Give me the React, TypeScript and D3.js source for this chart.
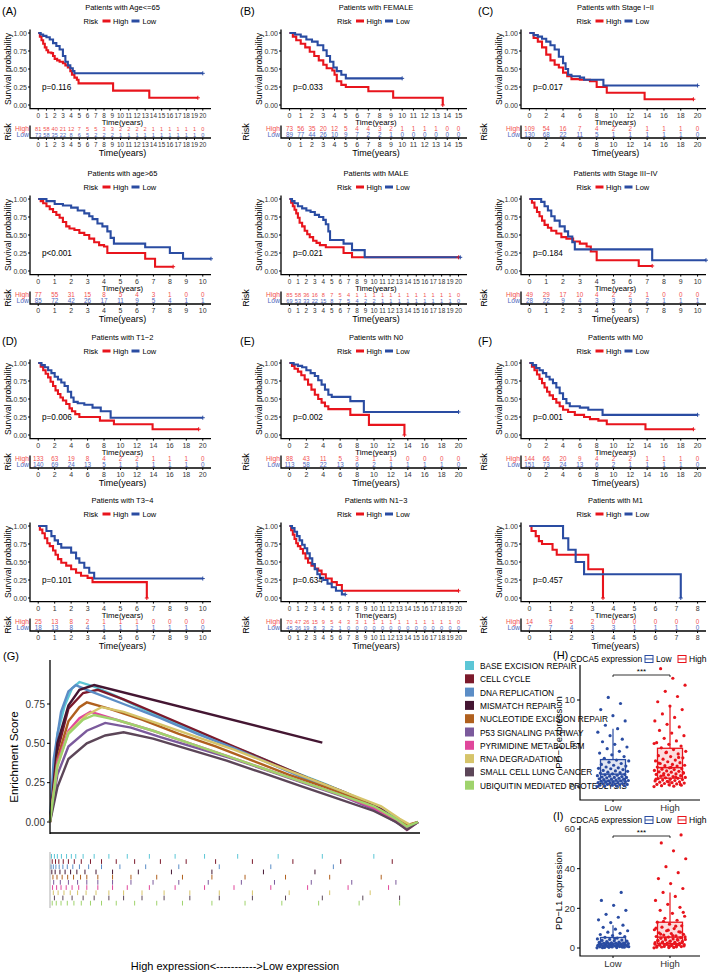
import React from "react";
import * as d3 from "d3";

const FONT = "'Liberation Sans', Arial, Helvetica, sans-serif";
const RED = "#e8141c";
const BLUE = "#2a4ca2";
const RED_T = "#f25050";
const BLUE_T = "#5068bd";

// ---------------- KM survival curves: [time, survival] (last pair = end of follow-up)
const KM_A1_HIGH = [[0,1],[0.2,0.95],[0.4,0.9],[0.6,0.85],[0.8,0.8],[1.0,0.76],[1.2,0.73],[1.6,0.72],[1.8,0.68],[2.0,0.64],[2.3,0.62],[2.6,0.6],[3.0,0.58],[3.3,0.55],[3.6,0.52],[3.9,0.47],[4.1,0.42],[4.4,0.38],[4.7,0.35],[4.9,0.3],[9.1,0.2],[13.5,0.1],[19.4,0.1]];
const KM_A1_LOW = [[0,1],[0.3,0.98],[0.6,0.96],[1.0,0.94],[1.4,0.91],[1.8,0.86],[2.2,0.82],[2.6,0.77],[3.0,0.68],[3.3,0.6],[3.6,0.55],[3.9,0.51],[4.2,0.47],[4.4,0.44],[20,0.44]];
const KM_B1_HIGH = [[0,1],[0.3,0.95],[0.6,0.9],[1.0,0.85],[1.4,0.8],[1.8,0.74],[2.2,0.68],[2.6,0.62],[3.0,0.56],[3.3,0.51],[3.8,0.48],[4.0,0.42],[4.2,0.33],[4.6,0.28],[5.0,0.25],[7.0,0.19],[9.2,0.1],[13.6,0.0]];
const KM_B1_LOW = [[0,1],[0.5,0.98],[1.0,0.95],[1.5,0.91],[2.0,0.88],[2.5,0.83],[3.0,0.76],[3.3,0.68],[3.6,0.6],[3.9,0.52],[4.2,0.47],[4.6,0.42],[5.0,0.37],[10,0.37]];
const KM_C1_HIGH = [[0,1],[0.5,0.93],[1.0,0.88],[1.5,0.8],[2.0,0.7],[2.5,0.62],[3.0,0.56],[3.5,0.52],[4.0,0.45],[4.5,0.4],[5.0,0.36],[6.0,0.35],[7.2,0.33],[8.0,0.25],[9.2,0.17],[13.7,0.08],[19.5,0.08]];
const KM_C1_LOW = [[0,1],[0.5,0.97],[1.0,0.95],[1.5,0.92],[2.0,0.88],[2.5,0.83],[3.0,0.77],[3.5,0.67],[4.0,0.58],[4.3,0.5],[4.6,0.42],[5.0,0.4],[6.0,0.38],[6.5,0.35],[8.8,0.27],[20,0.27]];
const KM_A2_HIGH = [[0,1],[0.15,0.97],[0.3,0.94],[0.5,0.9],[0.7,0.86],[0.9,0.82],[1.1,0.78],[1.3,0.74],[1.5,0.68],[1.7,0.62],[1.9,0.59],[2.2,0.57],[2.5,0.53],[2.8,0.5],[3.1,0.45],[3.4,0.4],[3.7,0.36],[4.0,0.34],[4.2,0.25],[6.5,0.17],[7.1,0.06],[8.2,0.06]];
const KM_A2_LOW = [[0,1],[0.5,0.97],[1.0,0.93],[1.5,0.91],[2.0,0.88],[2.4,0.84],[2.8,0.8],[3.1,0.76],[3.3,0.72],[3.6,0.66],[3.9,0.62],[4.2,0.55],[4.4,0.46],[4.6,0.38],[6.5,0.33],[8.0,0.25],[8.8,0.17],[10.5,0.17]];
const KM_B2_HIGH = [[0,1],[0.2,0.95],[0.4,0.9],[0.6,0.85],[0.8,0.8],[1.0,0.74],[1.2,0.67],[1.5,0.62],[1.8,0.56],[2.1,0.51],[2.4,0.47],[2.8,0.42],[3.2,0.39],[3.6,0.36],[4.3,0.33],[6.4,0.25],[7.4,0.19],[20,0.19]];
const KM_B2_LOW = [[0,1],[0.3,0.97],[0.6,0.94],[1.0,0.9],[1.5,0.87],[2.0,0.84],[2.5,0.82],[3.0,0.78],[3.5,0.75],[4.0,0.71],[4.3,0.65],[4.6,0.55],[4.8,0.43],[6.4,0.38],[7.4,0.29],[8.9,0.19],[20.2,0.19]];
const KM_C2_HIGH = [[0,1],[0.15,0.95],[0.3,0.88],[0.45,0.82],[0.6,0.76],[0.75,0.7],[0.9,0.64],[1.1,0.6],[1.3,0.56],[1.6,0.52],[1.9,0.47],[2.2,0.45],[2.6,0.41],[3.0,0.38],[3.4,0.34],[3.65,0.27],[4.0,0.15],[6.5,0.07],[7.3,0.07]];
const KM_C2_LOW = [[0,1],[0.7,0.96],[0.9,0.9],[1.1,0.84],[1.3,0.76],[1.5,0.7],[1.8,0.62],[2.1,0.55],[2.3,0.48],[2.55,0.4],[2.7,0.3],[7.3,0.15],[10.5,0.15]];
const KM_D_HIGH = [[0,1],[0.3,0.95],[0.6,0.9],[0.9,0.85],[1.2,0.8],[1.5,0.74],[1.8,0.68],[2.1,0.62],[2.4,0.57],[2.7,0.52],[3.0,0.48],[3.4,0.43],[3.8,0.37],[4.1,0.33],[4.5,0.29],[5.0,0.25],[7.5,0.2],[9.2,0.15],[13.9,0.08],[19.5,0.08]];
const KM_D_LOW = [[0,1],[0.4,0.97],[0.8,0.94],[1.2,0.9],[1.6,0.86],[2.0,0.81],[2.4,0.77],[2.8,0.73],[3.2,0.68],[3.6,0.6],[4.0,0.52],[4.3,0.46],[4.8,0.44],[5.6,0.42],[6.6,0.38],[7.6,0.33],[8.8,0.24],[20,0.24]];
const KM_E_HIGH = [[0,1],[0.3,0.96],[0.6,0.92],[1.0,0.88],[1.4,0.83],[1.8,0.77],[2.2,0.7],[2.6,0.63],[3.0,0.56],[3.4,0.5],[3.8,0.45],[4.2,0.4],[4.6,0.36],[7.2,0.28],[9.4,0.14],[13.6,0.0]];
const KM_E_LOW = [[0,1],[0.5,0.98],[1.0,0.96],[1.5,0.94],[2.0,0.9],[2.5,0.86],[3.0,0.82],[3.4,0.76],[3.8,0.7],[4.2,0.63],[4.6,0.56],[5.0,0.53],[7.2,0.47],[8.8,0.32],[20,0.32]];
const KM_F_HIGH = [[0,1],[0.3,0.95],[0.6,0.9],[0.9,0.84],[1.2,0.78],[1.5,0.72],[1.8,0.66],[2.1,0.6],[2.4,0.55],[2.8,0.5],[3.2,0.45],[3.6,0.4],[4.0,0.35],[4.6,0.32],[5.4,0.28],[6.5,0.25],[7.2,0.22],[8.2,0.2],[9.2,0.15],[13.8,0.08],[19.5,0.08]];
const KM_F_LOW = [[0,1],[0.4,0.97],[0.8,0.93],[1.2,0.9],[1.6,0.86],[2.0,0.81],[2.4,0.77],[2.8,0.72],[3.2,0.66],[3.6,0.58],[4.0,0.5],[4.4,0.44],[4.8,0.4],[6.0,0.38],[7.0,0.35],[8.7,0.28],[20,0.28]];
const KM_D4_HIGH = [[0,1],[0.1,0.95],[0.25,0.9],[0.4,0.83],[0.55,0.76],[0.7,0.72],[0.9,0.66],[1.05,0.6],[1.2,0.54],[1.4,0.49],[1.7,0.45],[2.0,0.4],[2.3,0.35],[2.6,0.31],[3.0,0.28],[3.3,0.22],[6.6,0.0]];
const KM_D4_LOW = [[0,1],[0.5,0.93],[0.8,0.86],[1.0,0.8],[1.2,0.75],[1.4,0.7],[2.0,0.63],[2.3,0.55],[2.5,0.49],[2.8,0.42],[3.1,0.35],[3.4,0.27],[10,0.27]];
const KM_E4_HIGH = [[0,1],[0.2,0.94],[0.4,0.88],[0.6,0.82],[0.8,0.76],[1.0,0.72],[1.3,0.68],[1.6,0.62],[1.9,0.55],[2.2,0.49],[2.6,0.45],[3.0,0.41],[3.4,0.38],[3.8,0.33],[4.3,0.27],[5.0,0.22],[5.6,0.18],[6.2,0.1],[20,0.1]];
const KM_E4_LOW = [[0,1],[0.3,0.97],[0.6,0.92],[0.9,0.86],[1.2,0.8],[1.5,0.74],[1.8,0.69],[2.1,0.62],[2.4,0.55],[2.7,0.47],[3.0,0.4],[3.3,0.33],[3.6,0.28],[4.0,0.25],[4.5,0.2],[5.0,0.15],[5.5,0.1],[6.2,0.05],[6.6,0.05]];
const KM_F4_HIGH = [[0,1],[0.1,0.93],[0.3,0.86],[0.45,0.79],[0.6,0.75],[1.1,0.67],[1.3,0.6],[2.8,0.4],[3.5,0.0]];
const KM_F4_LOW = [[0,1],[1.6,0.83],[1.85,0.67],[2.2,0.5],[2.6,0.33],[7.2,0.0]];

// ---------------- numbers at risk (at each labelled time)
const RISK_A1_HIGH = [81,58,40,21,12,7,5,5,3,3,2,2,2,2,1,1,1,1,1,1,0];
const RISK_A1_LOW = [73,58,35,22,8,6,5,2,2,2,1,1,1,1,1,1,1,1,1,1,0];
const RISK_B1_HIGH = [73,56,35,20,12,5,4,4,3,2,1,1,1,1,0,0];
const RISK_B1_LOW = [89,77,44,26,10,9,7,2,2,1,0,0,0,0,0,0];
const RISK_C1_HIGH = [109,54,16,7,4,2,2,1,1,1,0];
const RISK_C1_LOW = [130,68,22,11,5,1,1,1,1,1,0];
const RISK_A2_HIGH = [77,55,31,15,8,5,4,3,1,0,0];
const RISK_A2_LOW = [85,72,42,26,17,11,9,5,4,1,1];
const RISK_B2_HIGH = [85,58,36,16,8,7,5,4,1,1,1,1,1,1,1,1,1,1,1,1,0];
const RISK_B2_LOW = [69,53,33,22,15,8,7,5,4,2,2,1,1,1,1,1,1,1,1,1,0];
const RISK_C2_HIGH = [49,29,17,10,4,2,2,1,0,0,0];
const RISK_C2_LOW = [28,22,9,4,3,3,3,2,1,1,1];
const RISK_D_HIGH = [133,63,19,8,4,2,2,1,1,1,0];
const RISK_D_LOW = [140,69,24,13,5,1,1,1,1,1,0];
const RISK_E_HIGH = [88,43,11,5,3,1,1,0,0,0,0];
const RISK_E_LOW = [113,58,22,13,6,2,1,1,1,1,0];
const RISK_F_HIGH = [144,66,20,9,4,2,2,1,1,1,0];
const RISK_F_LOW = [151,73,24,13,6,2,1,1,1,1,0];
const RISK_D4_HIGH = [25,13,8,2,1,1,1,0,0,0,0];
const RISK_D4_LOW = [18,13,8,4,1,1,1,1,1,1,0];
const RISK_E4_HIGH = [70,47,26,15,9,5,4,3,3,1,1,1,1,1,1,1,1,1,1,1,0];
const RISK_E4_LOW = [45,36,19,8,3,2,1,0,0,0,0,0,0,0,0,0,0,0,0,0,0];
const RISK_F4_HIGH = [14,9,5,2,0,0,0,0,0];
const RISK_F4_LOW = [7,7,4,3,3,1,1,1,0];

const ROW_TOP = [7, 173, 337, 500];
const COL_L = [30, 281, 521];
const COL_R = [211, 467, 706];
const COL_TAG = [2, 240, 478];

const PANELS = [
  { tag: "(A)", row: 0, col: 0, title: "Patients with Age<=65", xMax: 20, step: 1, p: "p=0.116", hi: KM_A1_HIGH, lo: KM_A1_LOW, rHi: RISK_A1_HIGH, rLo: RISK_A1_LOW },
  { tag: "(B)", row: 0, col: 1, title: "Patients with FEMALE", xMax: 15, step: 1, p: "p=0.033", hi: KM_B1_HIGH, lo: KM_B1_LOW, rHi: RISK_B1_HIGH, rLo: RISK_B1_LOW },
  { tag: "(C)", row: 0, col: 2, title: "Patients with Stage I\u2212II", xMax: 20, step: 2, p: "p=0.017", hi: KM_C1_HIGH, lo: KM_C1_LOW, rHi: RISK_C1_HIGH, rLo: RISK_C1_LOW },
  { tag: "", row: 1, col: 0, title: "Patients with age>65", xMax: 10, step: 1, p: "p<0.001", hi: KM_A2_HIGH, lo: KM_A2_LOW, rHi: RISK_A2_HIGH, rLo: RISK_A2_LOW },
  { tag: "", row: 1, col: 1, title: "Patients with MALE", xMax: 20, step: 1, p: "p=0.021", hi: KM_B2_HIGH, lo: KM_B2_LOW, rHi: RISK_B2_HIGH, rLo: RISK_B2_LOW },
  { tag: "", row: 1, col: 2, title: "Patients with Stage III\u2212IV", xMax: 10, step: 1, p: "p=0.184", hi: KM_C2_HIGH, lo: KM_C2_LOW, rHi: RISK_C2_HIGH, rLo: RISK_C2_LOW },
  { tag: "(D)", row: 2, col: 0, title: "Patients with T1\u22122", xMax: 20, step: 2, p: "p=0.006", hi: KM_D_HIGH, lo: KM_D_LOW, rHi: RISK_D_HIGH, rLo: RISK_D_LOW },
  { tag: "(E)", row: 2, col: 1, title: "Patients with N0", xMax: 20, step: 2, p: "p=0.002", hi: KM_E_HIGH, lo: KM_E_LOW, rHi: RISK_E_HIGH, rLo: RISK_E_LOW },
  { tag: "(F)", row: 2, col: 2, title: "Patients with M0", xMax: 20, step: 2, p: "p=0.001", hi: KM_F_HIGH, lo: KM_F_LOW, rHi: RISK_F_HIGH, rLo: RISK_F_LOW },
  { tag: "", row: 3, col: 0, title: "Patients with T3\u22124", xMax: 10, step: 1, p: "p=0.101", hi: KM_D4_HIGH, lo: KM_D4_LOW, rHi: RISK_D4_HIGH, rLo: RISK_D4_LOW },
  { tag: "", row: 3, col: 1, title: "Patients with N1\u22123", xMax: 20, step: 1, p: "p=0.634", hi: KM_E4_HIGH, lo: KM_E4_LOW, rHi: RISK_E4_HIGH, rLo: RISK_E4_LOW },
  { tag: "", row: 3, col: 2, title: "Patients with M1", xMax: 8, step: 1, p: "p=0.457", hi: KM_F4_HIGH, lo: KM_F4_LOW, rHi: RISK_F4_HIGH, rLo: RISK_F4_LOW },
];

// ---------------- GSEA (G)
const GS_NAMES = ["BASE EXCISION REPAIR", "CELL CYCLE", "DNA REPLICATION", "MISMATCH REPAIR", "NUCLEOTIDE EXCISION REPAIR", "P53 SIGNALING PATHWAY", "PYRIMIDINE METABOLISM", "RNA DEGRADATION", "SMALL CELL LUNG CANCER", "UBIQUITIN MEDIATED PROTEOLYSIS"];
const GS_COLORS = ["#5cc6d6", "#7c1a2c", "#5b8dc6", "#441632", "#b0601e", "#7b5a9c", "#e0479b", "#d6c46a", "#5c4658", "#9fd36c"];
const ES_BER = [[0,0],[0.01,0.32],[0.02,0.56],[0.04,0.74],[0.06,0.85],[0.08,0.89],[0.12,0.86],[0.18,0.8],[0.25,0.72],[0.35,0.62],[0.45,0.52],[0.55,0.43],[0.65,0.33],[0.75,0.24],[0.85,0.14],[0.92,0.06],[0.96,0.0],[0.98,-0.02],[1,0]];
const ES_CC = [[0,0],[0.02,0.45],[0.05,0.72],[0.09,0.82],[0.13,0.84],[0.2,0.78],[0.3,0.68],[0.4,0.58],[0.5,0.48],[0.6,0.38],[0.7,0.28],[0.8,0.19],[0.9,0.08],[0.95,0.0],[0.97,-0.03],[1,0]];
const ES_DNA = [[0,0],[0.01,0.4],[0.03,0.7],[0.05,0.83],[0.07,0.87],[0.1,0.84],[0.2,0.75],[0.3,0.66],[0.4,0.56],[0.5,0.47],[0.6,0.37],[0.7,0.27],[0.8,0.18],[0.9,0.07],[0.95,0.01],[0.98,-0.03],[1,0]];
const ES_MMR = [[0,0],[0.02,0.5],[0.05,0.74],[0.08,0.84],[0.12,0.87],[0.74,0.505]];
const ES_NER = [[0,0],[0.02,0.4],[0.05,0.64],[0.08,0.73],[0.1,0.76],[0.16,0.72],[0.25,0.65],[0.35,0.56],[0.45,0.48],[0.55,0.39],[0.65,0.3],[0.75,0.22],[0.85,0.13],[0.93,0.03],[0.97,-0.02],[1,0]];
const ES_P53 = [[0,0],[0.02,0.3],[0.05,0.48],[0.1,0.58],[0.15,0.63],[0.22,0.6],[0.3,0.54],[0.4,0.47],[0.5,0.4],[0.6,0.32],[0.7,0.24],[0.8,0.16],[0.88,0.08],[0.94,0.0],[0.97,-0.04],[1,0]];
const ES_PYR = [[0,0],[0.02,0.38],[0.05,0.58],[0.08,0.66],[0.11,0.7],[0.18,0.65],[0.28,0.58],[0.38,0.5],[0.48,0.42],[0.58,0.34],[0.68,0.26],[0.78,0.18],[0.88,0.09],[0.94,0.01],[0.97,-0.05],[1,0]];
const ES_RNA = [[0,0],[0.02,0.35],[0.05,0.57],[0.1,0.68],[0.14,0.73],[0.2,0.7],[0.3,0.62],[0.4,0.54],[0.5,0.46],[0.6,0.37],[0.7,0.28],[0.8,0.19],[0.9,0.1],[0.95,0.02],[0.98,-0.02],[1,0]];
const ES_SCLC = [[0,0],[0.02,0.22],[0.05,0.4],[0.1,0.5],[0.15,0.55],[0.2,0.57],[0.28,0.53],[0.38,0.46],[0.48,0.39],[0.58,0.31],[0.68,0.23],[0.78,0.15],[0.88,0.07],[0.94,0.0],[0.97,-0.05],[1,0]];
const ES_UBI = [[0,0],[0.02,0.36],[0.05,0.56],[0.09,0.65],[0.12,0.68],[0.18,0.65],[0.28,0.58],[0.38,0.5],[0.48,0.42],[0.58,0.34],[0.68,0.26],[0.78,0.18],[0.88,0.1],[0.94,0.02],[0.97,-0.03],[1,0]];
const ES_CURVES = [ES_BER, ES_CC, ES_DNA, ES_MMR, ES_NER, ES_P53, ES_PYR, ES_RNA, ES_SCLC, ES_UBI];
const HITS_BER = [0.004,0.012,0.02,0.031,0.045,0.058,0.07,0.09,0.12,0.16,0.21,0.27,0.34,0.42,0.51,0.62,0.74,0.88];
const HITS_CC = [0.006,0.015,0.024,0.036,0.05,0.066,0.085,0.11,0.14,0.18,0.23,0.3,0.37,0.45,0.55,0.66,0.79,0.93];
const HITS_DNA = [0.003,0.009,0.016,0.025,0.035,0.047,0.062,0.08,0.105,0.14,0.19,0.26,0.35,0.46,0.6,0.77];
const HITS_MMR = [0.005,0.014,0.027,0.041,0.056,0.073,0.095,0.125,0.17,0.24,0.33,0.44,0.58,0.72];
const HITS_NER = [0.008,0.019,0.033,0.048,0.064,0.083,0.1,0.13,0.17,0.22,0.29,0.36,0.44,0.53,0.64,0.76,0.9];
const HITS_P53 = [0.01,0.028,0.05,0.075,0.1,0.13,0.17,0.22,0.28,0.35,0.43,0.52,0.61,0.71,0.82,0.94];
const HITS_PYR = [0.007,0.018,0.03,0.044,0.06,0.078,0.1,0.13,0.17,0.21,0.27,0.34,0.42,0.5,0.6,0.7,0.81,0.92];
const HITS_RNA = [0.009,0.022,0.038,0.055,0.075,0.098,0.125,0.16,0.2,0.25,0.31,0.38,0.46,0.55,0.65,0.76,0.87];
const HITS_SCLC = [0.012,0.035,0.06,0.09,0.12,0.16,0.2,0.25,0.31,0.38,0.46,0.55,0.64,0.74,0.85,0.95];
const HITS_UBI = [0.006,0.017,0.03,0.047,0.065,0.085,0.11,0.14,0.18,0.23,0.29,0.36,0.44,0.53,0.63,0.73,0.84,0.95];
const HITS = [HITS_BER, HITS_CC, HITS_DNA, HITS_MMR, HITS_NER, HITS_P53, HITS_PYR, HITS_RNA, HITS_SCLC, HITS_UBI];
const ES_TICKS = [0, 0.25, 0.5, 0.75];

// ---------------- boxplots (H, I)
const GROUPS = ["Low", "High"];
const PD1_LOW = [0.05,0.1,0.1,0.15,0.2,0.2,0.25,0.3,0.3,0.35,0.4,0.4,0.45,0.5,0.5,0.55,0.6,0.6,0.65,0.7,0.7,0.75,0.8,0.85,0.9,0.9,0.95,1.0,1.05,1.1,1.1,1.15,1.2,1.25,1.3,1.35,1.4,1.45,1.5,1.6,1.65,1.7,1.8,1.85,1.9,2.0,2.1,2.15,2.2,2.3,2.4,2.5,2.6,2.7,2.85,3.0,3.1,3.3,3.5,3.7,3.9,4.1,4.4,4.6,4.9,5.2,5.5,5.9,6.3,6.7,7.1,7.6,8.2,8.9,9.6,10.3];
const PD1_HIGH = [0.05,0.1,0.15,0.2,0.25,0.3,0.35,0.4,0.45,0.5,0.55,0.6,0.65,0.7,0.75,0.8,0.85,0.9,0.95,1.0,1.05,1.1,1.2,1.25,1.3,1.4,1.45,1.5,1.55,1.6,1.7,1.75,1.8,1.85,1.9,2.0,2.05,2.1,2.2,2.3,2.4,2.45,2.5,2.6,2.7,2.8,2.9,3.0,3.1,3.2,3.35,3.5,3.6,3.8,3.95,4.1,4.3,4.5,4.7,4.9,5.1,5.3,5.6,5.9,6.2,6.5,6.9,7.2,7.6,8.0,8.4,8.9,9.3,9.8,10.4,11.0,11.7,12.5,13.6,0.3,0.6,0.9,1.15,1.35,1.65,2.25,2.75,3.4,4.0,5.0];
const PDL1_LOW = [0.1,0.2,0.3,0.4,0.5,0.6,0.7,0.8,0.9,1.0,1.1,1.2,1.3,1.4,1.5,1.6,1.7,1.8,1.9,2.0,2.1,2.2,2.3,2.4,2.5,2.6,2.8,3.0,3.2,3.4,3.6,3.8,4.0,4.3,4.6,5.0,5.4,5.8,6.3,6.8,7.4,8.0,8.7,9.5,10.4,11.5,12.8,14.2,15.5,17.0,19.0,21.5,24.0,28.0,0.35,0.65,0.95,1.25,1.55,1.85,2.15,2.45,2.9,3.5,4.8,0.15,0.45,0.75,1.05,1.35];
const PDL1_HIGH = [0.1,0.3,0.5,0.7,0.9,1.1,1.3,1.5,1.7,1.9,2.1,2.3,2.5,2.7,2.9,3.1,3.3,3.5,3.7,3.9,4.1,4.3,4.6,4.9,5.2,5.5,5.8,6.1,6.5,6.9,7.3,7.7,8.2,8.7,9.2,9.8,10.5,11.2,12.0,13.0,14.0,15.0,16.0,17.5,19.0,20.5,22.0,24.0,26.0,28.0,30.0,32.5,35.0,38.0,41.0,45.0,49.0,53.0,57.0,0.2,0.4,0.6,0.8,1.0,1.2,1.4,1.6,1.8,2.0,2.2,2.6,3.0,3.4,3.8,4.4,5.0,5.6,6.3,7.0,8.0,9.0,10.0,11.0,13.5,18.0];
const PD1_TICKS = [0, 5, 10];
const PDL1_TICKS = [0, 20, 40, 60];

function KM({ d }: any) {
  const T = ROW_TOP[d.row], L = COL_L[d.col], R = COL_R[d.col];
  const x = d3.scaleLinear().domain([-0.05 * d.xMax, 1.05 * d.xMax]).range([L, R]);
  const y = d3.scaleLinear().domain([0, 1]).range([T + 98, T + 26]);
  const yTop = y(1.05), yBot = y(-0.05);
  const ticks = d3.range(0, d.xMax + 1e-9, d.step);
  const dense = ticks.length > 16;
  const tickFs = dense ? 6.4 : 7;
  const riskFs = dense ? 5.6 : 6.3;
  const line = d3.line<number[]>().x((p) => x(p[0])).y((p) => y(p[1])).curve(d3.curveStepAfter);
  const cx = (L + R) / 2;
  const tabY = T + 131;
  const endMark = (c: number[][], col: string) => {
    const e = c[c.length - 1];
    return <path d={`M${x(e[0]) - 2},${y(e[1])}h4M${x(e[0])},${y(e[1]) - 2}v4`} stroke={col} strokeWidth={1} />;
  };
  return (
    <g>
      {d.tag && <text x={COL_TAG[d.col]} y={T + 8} fontSize={11}>{d.tag}</text>}
      <text x={cx + 2} y={T + 2.6} fontSize={7.5} textAnchor="middle">{d.title}</text>
      <g fontSize={7.5}>
        <text x={cx - 37} y={T + 16.6}>Risk</text>
        <line x1={cx - 18} x2={cx - 10} y1={T + 14} y2={T + 14} stroke={RED} strokeWidth={3} />
        <text x={cx - 7.5} y={T + 16.6}>High</text>
        <line x1={cx + 11} x2={cx + 19} y1={T + 14} y2={T + 14} stroke={BLUE} strokeWidth={3} />
        <text x={cx + 22} y={T + 16.6}>Low</text>
      </g>
      <text transform={`translate(${L - 22},${(yTop + yBot) / 2}) rotate(-90)`} fontSize={8.6} textAnchor="middle" dy="0.35em">Survival probability</text>
      {[0, 0.25, 0.5, 0.75, 1].map((v) => (
        <g key={v}>
          <line x1={L - 2} x2={L} y1={y(v)} y2={y(v)} stroke="#000" />
          <text x={L - 3} y={y(v) + 2.5} fontSize={7} textAnchor="end" fill="#333">{v.toFixed(2)}</text>
        </g>
      ))}
      <path d={`M${L},${yTop}V${yBot}H${R}`} fill="none" stroke="#000" strokeWidth={1.3} />
      {ticks.map((t) => (
        <g key={t}>
          <line x1={x(t)} x2={x(t)} y1={yBot} y2={yBot + 2} stroke="#000" />
          <text x={x(t)} y={T + 110.5} fontSize={tickFs} textAnchor="middle" fill="#333">{t}</text>
        </g>
      ))}
      <text x={cx + 2} y={T + 117.6} fontSize={7.8} textAnchor="middle">Time(years)</text>
      <path d={line(d.hi as any) || ""} fill="none" stroke={RED} strokeWidth={2.1} />
      <path d={line(d.lo as any) || ""} fill="none" stroke={BLUE} strokeWidth={2.1} />
      {endMark(d.hi, RED)}
      {endMark(d.lo, BLUE)}
      <text x={L + 12} y={y(0.25) + 3} fontSize={8.2}>{d.p}</text>
      <text transform={`translate(${COL_TAG[d.col] + 6},${T + 125}) rotate(-90)`} fontSize={9} textAnchor="middle" dy="0.35em">Risk</text>
      <text x={L - 1} y={T + 123.8} fontSize={6.8} textAnchor="end" fill={RED_T}>High</text>
      <text x={L - 1} y={T + 130} fontSize={6.8} textAnchor="end" fill={BLUE_T}>Low</text>
      <path d={`M${L},${T + 118.5}V${tabY}H${R}`} fill="none" stroke="#000" strokeWidth={1.3} />
      {ticks.map((t, i) => (
        <g key={"r" + t}>
          <text x={x(t)} y={T + 124} fontSize={riskFs} textAnchor="middle" fill={RED_T}>{d.rHi[i]}</text>
          <text x={x(t)} y={T + 129.8} fontSize={riskFs} textAnchor="middle" fill={BLUE_T}>{d.rLo[i]}</text>
          <line x1={x(t)} x2={x(t)} y1={tabY} y2={tabY + 2} stroke="#000" />
          <text x={x(t)} y={T + 139.5} fontSize={tickFs} textAnchor="middle" fill="#333">{t}</text>
        </g>
      ))}
      <text x={cx + 2} y={T + 148.5} fontSize={9} textAnchor="middle">Time(years)</text>
    </g>
  );
}

function Gsea() {
  const x = d3.scaleLinear().domain([0, 1]).range([50, 418]);
  const y = d3.scaleLinear().domain([0, 0.75]).range([822, 704]);
  const line = d3.line<number[]>().x((p) => x(p[0])).y((p) => y(p[1]));
  const rugTop = 854, rowH = 5.2;
  return (
    <g>
      <text x={3} y={660} fontSize={11}>(G)</text>
      <text transform={`translate(14,757) rotate(-90)`} fontSize={11.5} textAnchor="middle" dy="0.35em">Enrichment Score</text>
      {ES_TICKS.map((v) => (
        <g key={v}>
          <line x1={47} x2={50} y1={y(v)} y2={y(v)} stroke="#000" />
          <text x={45} y={y(v) + 3.5} fontSize={10} textAnchor="end" fill="#333">{v.toFixed(2)}</text>
        </g>
      ))}
      {ES_CURVES.map((c, i) => (
        <path key={i} d={line(c as any) || ""} fill="none" stroke={GS_COLORS[i]} strokeWidth={2.4} />
      ))}
      <line x1={50} x2={50} y1={660} y2={834} stroke="#000" strokeWidth={1.3} />
      <line x1={50} x2={420} y1={833} y2={833} stroke="#000" strokeWidth={1.6} />
      {GS_NAMES.map((n, i) => (
        <g key={n}>
          <rect x={465} y={661 + i * 13.3} width={9} height={9} fill={GS_COLORS[i]} />
          <text x={480} y={669 + i * 13.3} fontSize={8.3}>{n}</text>
        </g>
      ))}
      {HITS.map((h, i) => (
        <g key={i}>
          {h.map((f, j) => (
            <line key={j} x1={x(f)} x2={x(f)} y1={rugTop + i * rowH} y2={rugTop + (i + 1) * rowH - 0.5} stroke={GS_COLORS[i]} strokeWidth={1} />
          ))}
        </g>
      ))}
      <line x1={50} x2={50} y1={852} y2={908} stroke="#999" strokeWidth={0.8} />
      <text x={235} y={970} fontSize={11} textAnchor="middle">High expression{"<-----------"}{">"}Low expression</text>
    </g>
  );
}

function BoxPanel({ tag, tagY, low, high, ticks, yMin, yMax, yPxMin, yPxMax, top, bottom, label }: any) {
  const y = d3.scaleLinear().domain([yMin, yMax]).range([yPxMin, yPxMax]);
  const centers = d3.scalePoint().domain(GROUPS).range([613, 670]);
  const bw = 25;
  const cols = [BLUE, RED];
  const data = [low, high];
  return (
    <g>
      <text x={553} y={tagY} fontSize={11}>{tag}</text>
      <text x={570} y={tagY + 3} fontSize={8.5}>CDCA5 expression</text>
      <rect x={645} y={tagY - 3.5} width={8} height={7} fill="none" stroke={BLUE} strokeWidth={1} />
      <line x1={645} x2={653} y1={tagY} y2={tagY} stroke={BLUE} />
      <text x={656} y={tagY + 3} fontSize={8.5}>Low</text>
      <rect x={678} y={tagY - 3.5} width={8} height={7} fill="none" stroke={RED} strokeWidth={1} />
      <line x1={678} x2={686} y1={tagY} y2={tagY} stroke={RED} />
      <text x={689} y={tagY + 3} fontSize={8.5}>High</text>
      <text transform={`translate(559,${(top + bottom) / 2}) rotate(-90)`} fontSize={9.5} textAnchor="middle" dy="0.35em">{label}</text>
      {ticks.map((t: number) => (
        <g key={t}>
          <line x1={577} x2={580} y1={y(t)} y2={y(t)} stroke="#000" />
          <text x={575} y={y(t) + 3.3} fontSize={9.5} textAnchor="end" fill="#333">{t}</text>
        </g>
      ))}
      <path d={`M580,${top}V${bottom}H700`} fill="none" stroke="#000" strokeWidth={1.2} />
      {GROUPS.map((g, gi) => {
        const vals = (data[gi] as number[]).slice().sort((a, b) => a - b);
        const q1 = d3.quantile(vals, 0.25)!, md = d3.quantile(vals, 0.5)!, q3 = d3.quantile(vals, 0.75)!;
        const iqr = q3 - q1;
        const wLo = d3.min(vals.filter((v) => v >= q1 - 1.5 * iqr))!;
        const wHi = d3.max(vals.filter((v) => v <= q3 + 1.5 * iqr))!;
        const c = centers(g)!;
        const bx = c - bw / 2;
        return (
          <g key={g}>
            {(data[gi] as number[]).map((v, i) => (
              <circle key={i} cx={c + (((i * 0.618034) % 1) - 0.5) * 32} cy={y(v)} r={1.6} fill={cols[gi]} />
            ))}
            <line x1={c} x2={c} y1={y(wLo)} y2={y(q1)} stroke={cols[gi]} strokeWidth={1.2} />
            <line x1={c} x2={c} y1={y(q3)} y2={y(wHi)} stroke={cols[gi]} strokeWidth={1.2} />
            <rect x={bx} y={y(q3)} width={bw} height={y(q1) - y(q3)} fill={cols[gi]} fillOpacity={0.15} stroke={cols[gi]} strokeWidth={1.3} />
            <line x1={bx} x2={bx + bw} y1={y(md)} y2={y(md)} stroke={cols[gi]} strokeWidth={1.5} />
            <line x1={c} x2={c} y1={bottom} y2={bottom + 2} stroke="#000" />
            <text x={c} y={bottom + 11} fontSize={9.5} textAnchor="middle" fill="#333">{g}</text>
          </g>
        );
      })}
      <path d={`M${centers("Low")},${top + 12}V${top + 10}H${centers("High")}V${top + 12}`} fill="none" stroke="#000" strokeWidth={0.8} />
      <text x={(centers("Low")! + centers("High")!) / 2} y={top + 9} fontSize={8} textAnchor="middle">***</text>
    </g>
  );
}

export default function App() {
  return (
    <svg width={709} height={974} style={{ position: "absolute", left: 0, top: 0, background: "#fff" }} fontFamily={FONT}>
      <rect width={709} height={974} fill="#fff" />
      {PANELS.map((p, i) => <KM key={i} d={p} />)}
      <Gsea />
      <BoxPanel tag="(H)" tagY={659} low={PD1_LOW} high={PD1_HIGH} ticks={PD1_TICKS} yMin={0} yMax={10} yPxMin={787} yPxMax={700} top={665} bottom={800} label={"PD\u22121 expression"} />
      <BoxPanel tag="(I)" tagY={820} low={PDL1_LOW} high={PDL1_HIGH} ticks={PDL1_TICKS} yMin={0} yMax={60} yPxMin={948} yPxMax={829} top={826} bottom={956} label={"PD\u2212L1 expression"} />
    </svg>
  );
}
